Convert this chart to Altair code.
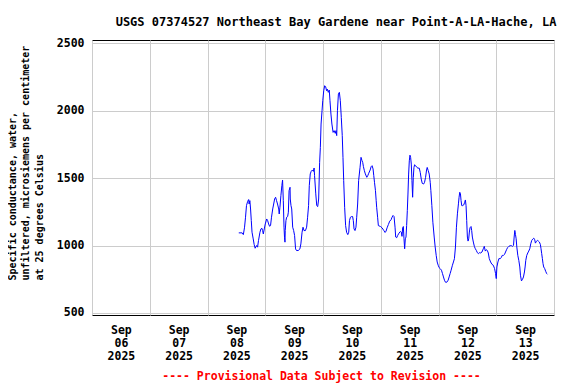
import altair as alt
import pandas as pd

# Time of each reading, hours after 2025-09-08 00:00 (local)
hours_after_sep08 = [
    13.0, 14.4, 14.9, 15.4, 15.8, 16.2, 16.7, 17.1, 17.3, 17.6, 17.9, 18.2, 18.5, 19.0, 19.4, 19.8,
    20.4, 20.8, 21.2, 21.8, 22.2, 22.6, 22.9, 23.2, 23.6, 24.0, 24.6, 25.0, 25.4, 25.8, 26.2, 26.6,
    27.1, 27.5, 27.9, 28.3, 28.7, 29.1, 29.6, 29.8, 30.1, 30.5, 30.9, 31.2, 31.5, 31.8, 32.0, 32.2,
    32.3, 32.6, 32.9, 33.3, 33.6, 33.9, 34.3, 34.4, 34.7, 35.0, 35.4, 35.8, 36.2, 36.6, 37.0, 37.7,
    38.4, 38.8, 39.3, 39.7, 40.1, 40.7, 41.2, 41.6, 42.0, 42.3, 42.7, 43.1, 43.6, 44.0, 44.3, 44.5,
    45.0, 45.4, 45.8, 46.2, 46.6, 46.9, 47.2, 47.6, 47.9, 48.3, 48.7, 49.1, 49.5, 49.8, 50.2, 50.6,
    50.9, 51.3, 51.7, 52.2, 52.6, 53.1, 53.4, 53.7, 54.0, 54.4, 54.8, 55.2, 55.6, 56.0, 56.3, 56.6,
    57.0, 57.4, 57.8, 58.3, 58.7, 59.0, 59.4, 59.9, 60.3, 60.6, 60.9, 61.3, 61.7, 62.0, 62.4, 62.8,
    63.4, 63.8, 64.2, 64.5, 64.8, 65.2, 65.6, 66.2, 66.6, 67.0, 67.6, 68.0, 68.4, 68.8, 69.1, 69.4,
    69.8, 70.1, 70.3, 70.7, 71.0, 71.9,
    72.56, 73.25, 73.80, 74.21, 74.63, 75.18, 75.73, 76.28, 76.70, 77.11, 77.52, 77.94, 78.21, 78.63,
    79.04, 79.59, 80.14, 80.56, 80.83, 81.11, 81.39, 81.66, 81.94, 82.21, 82.49, 82.76, 83.04, 83.31,
    83.59, 83.87, 84.14, 84.42, 84.69, 84.97, 85.25, 85.52, 85.80, 86.07, 86.49, 87.04, 87.45, 88.00,
    88.42, 88.83, 89.25, 89.80, 90.21, 90.62, 91.04, 91.31, 91.73, 92.14, 92.56, 92.83, 93.24, 93.66,
    94.21, 94.62, 95.04, 95.45, 95.87, 96.28, 96.69, 97.24, 97.66, 98.07, 98.48, 98.90, 99.45, 100.00,
    100.42, 100.83, 101.24, 101.79, 102.21, 102.62, 103.04, 103.45, 103.86, 104.28, 104.55, 104.83,
    105.10, 105.38, 105.66, 106.07, 106.48, 106.90, 107.17, 107.45, 107.72, 108.00, 108.28, 108.55,
    108.83, 109.10, 109.52, 109.79, 110.07, 110.48, 110.90, 111.31, 111.72, 112.14, 112.55, 112.96,
    113.52, 114.07, 114.62, 115.03, 115.45, 115.86, 116.27, 116.69, 117.10, 117.65, 118.20, 118.76,
    119.31, 119.72, 120.00, 120.27, 120.69, 121.10, 121.65, 122.07, 122.48, 123.03, 123.45, 123.86,
    124.27, 124.69, 125.24, 125.79, 126.34, 126.75, 127.17, 127.44, 127.72, 127.99, 128.27, 128.55,
    128.96, 129.37, 129.79, 130.06, 130.48, 130.89, 131.31, 131.72, 131.99, 132.27, 132.68, 133.10,
    133.51, 133.93, 134.34, 134.75, 135.17, 135.58, 135.99, 136.27, 136.68, 137.10, 137.51, 137.92,
    138.34, 138.61, 138.89, 139.17, 139.44, 139.72, 140.13, 140.54, 140.96, 141.24,
]

# Specific conductance, microsiemens per centimeter at 25 degrees Celsius
conductance = [
    1094, 1094, 1081, 1136, 1210, 1296, 1328, 1341, 1308, 1333, 1271, 1185, 1099, 1049, 1007, 980,
    1000, 988, 1037, 1099, 1123, 1128, 1111, 1086, 1123, 1160, 1197, 1185, 1160, 1143, 1148, 1210,
    1271, 1308, 1345, 1358, 1333, 1308, 1271, 1234, 1284, 1370, 1444, 1486, 1333, 1136, 1062, 1025,
    1111, 1185, 1210, 1215, 1247, 1407, 1432, 1345, 1296, 1271, 1136, 1111, 1074, 975, 963, 963,
    975, 1012, 1099, 1136, 1111, 1111, 1136, 1210, 1296, 1444, 1531, 1550, 1560, 1550, 1575, 1518,
    1383, 1296, 1289, 1345, 1617, 1728, 1901, 2000, 2074, 2148, 2185, 2178, 2148, 2160, 2136, 2153,
    2074, 1975, 1901, 1839, 1852, 1832, 1852, 1815, 2000, 2123, 2136, 2074, 1950, 1815, 1654, 1481,
    1284, 1148, 1099, 1081, 1099, 1185, 1210, 1215, 1215, 1185, 1123, 1111, 1136, 1210, 1308, 1481,
    1580, 1654, 1630, 1617, 1585, 1555, 1531, 1506, 1518, 1536, 1560, 1585, 1592, 1568, 1518, 1469,
    1407, 1333, 1284, 1210, 1148, 1141,
    1131, 1112, 1097, 1107, 1131, 1156, 1181, 1191, 1210, 1223, 1215, 1136, 1063, 1058,
    1075, 1092, 1104, 1099, 1068, 1131, 1141, 1050, 976, 1050, 1063, 1149, 1259, 1382,
    1530, 1628, 1670, 1653, 1604, 1481, 1358, 1505, 1579, 1599, 1592, 1579, 1574, 1574,
    1542, 1493, 1461, 1456, 1469, 1505, 1560, 1579, 1555, 1530, 1469, 1407, 1296, 1173,
    1063, 989, 927, 878, 854, 836, 829, 817, 792, 767, 743, 728, 728, 743,
    767, 792, 817, 854, 878, 903, 989, 1136, 1235, 1309, 1358, 1395,
    1387, 1333, 1296, 1296, 1301, 1321, 1338, 1296, 1186, 1063, 1033, 1050,
    1100, 1132, 1141, 1112, 1063, 1026, 994, 976, 964, 947, 940, 947,
    945, 952, 976, 994, 959, 969, 964, 945, 903, 878, 861, 854,
    829, 792, 755, 841, 878, 903, 903, 910, 927, 927, 935, 952,
    969, 984, 994, 999, 999, 994, 1001, 1063, 1112, 1082, 1050, 989,
    927, 890, 841, 780, 738, 748, 767, 804, 841, 890, 927, 945,
    959, 976, 1013, 1038, 1048, 1055, 1043, 1018, 1031, 1038, 1033, 1026,
    1008, 976, 940, 903, 866, 841, 829, 809, 792, 787,
]

y_ticks = [500, 1000, 1500, 2000, 2500]
first_day, last_day = 6, 14
title_text = "USGS 07374527 Northeast Bay Gardene near Point-A-LA-Hache, LA"
y_title = ["Specific conductance, water,",
           "unfiltered, microsiemens per centimeter",
           "at 25 degrees Celsius"]
footnote = "---- Provisional Data Subject to Revision ----"

base = pd.Timestamp("2025-09-08 00:00")
times = [(base + pd.Timedelta(hours=h)).strftime("%Y-%m-%dT%H:%M:%S") for h in hours_after_sep08]
df = pd.DataFrame({"time": times, "value": conductance})

x_values = []
for d in range(first_day, last_day + 1):
    x_values.append(alt.DateTime(year=2025, month=9, date=d, hours=0))
    if d < last_day:
        x_values.append(alt.DateTime(year=2025, month=9, date=d, hours=12))

FONT = "DejaVu Sans Mono"

chart = alt.Chart(df).mark_line(color="#0000ff", strokeWidth=1).encode(
    x=alt.X(
        "time:T",
        scale=alt.Scale(domain=[alt.DateTime(year=2025, month=9, date=first_day),
                                alt.DateTime(year=2025, month=9, date=last_day)]),
        axis=alt.Axis(
            values=x_values,
            labelExpr="hours(datum.value) === 12 ? [timeFormat(datum.value, '%b'), timeFormat(datum.value, '%d'), timeFormat(datum.value, '%Y')] : ''",
            gridOpacity={"condition": {"test": "hours(datum.value) === 12", "value": 0}, "value": 1},
            ticks=False,
            domain=False,
            labelOverlap=False,
            labelFlush=False,
            labelBaseline="top",
            labelPadding=9,
            labelLineHeight=13,
            labelFontSize=11.5,
            title=footnote,
            titleColor="#ff0000",
            titleFontSize=11.5,
            titleX=229,
            titleY=64,
            titleBaseline="alphabetic",
            titleAnchor="start",
            titleAlign="center",
        ),
    ),
    y=alt.Y(
        "value:Q",
        scale=alt.Scale(domain=[485, 2524], nice=False, zero=False),
        axis=alt.Axis(
            values=y_ticks,
            format="d",
            ticks=False,
            domain=False,
            labelPadding=8,
            labelFontSize=11.5,
            labelBaseline="middle",
            title=y_title,
            titleFontSize=10,
            titleLineHeight=13.5,
            titleAngle=270,
            titleAlign="left",
            titleBaseline="top",
            titleX=-85,
            titleY=240,
        ),
    ),
).properties(
    width=462,
    height=275,
    title=alt.TitleParams(title_text, font=FONT, fontSize=12, fontWeight="bold",
                          anchor="middle", dx=13, dy=16.5, offset=15.5, baseline="alphabetic"),
    autosize=alt.AutoSizeParams(type="none"),
    padding={"left": 84, "top": 32, "right": 14, "bottom": 69},
).configure_view(
    stroke="black", strokeWidth=1
).configure_axis(
    labelFont=FONT, titleFont=FONT, labelFontWeight="bold", titleFontWeight="bold",
    labelColor="black", gridColor="#cccccc", gridWidth=1,
).configure_axisY(titleColor="black")

chart.save("out.html", embed_options={"renderer": "svg", "actions": False})
